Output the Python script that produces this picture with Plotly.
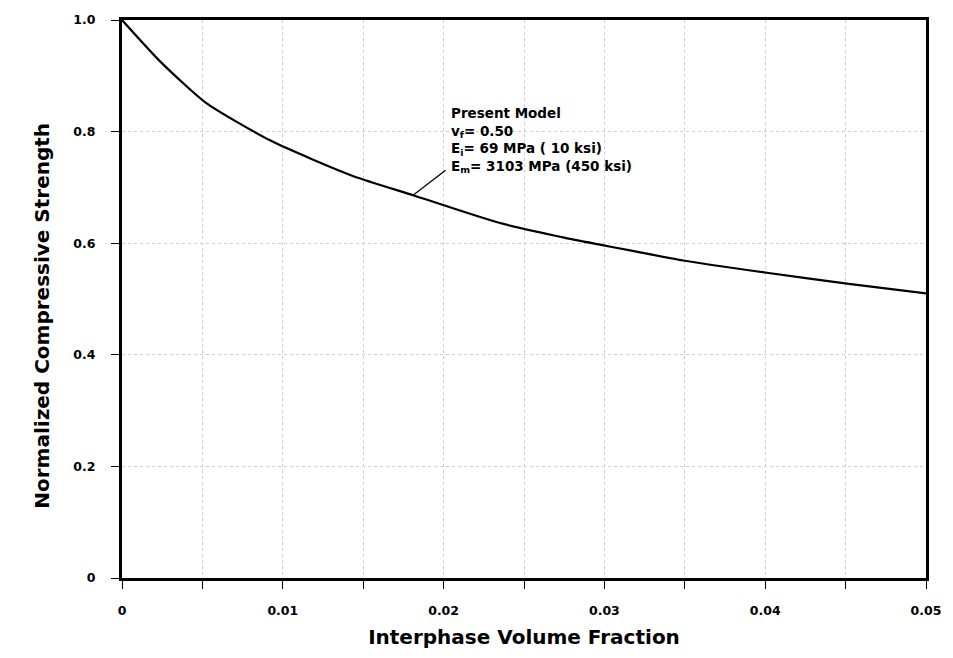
import plotly.graph_objects as go

# Normalized compressive strength vs. interphase volume fraction (Present Model)
interphase_vf = [0.0, 0.0024, 0.0052, 0.0093, 0.0144, 0.0181, 0.0234,
                 0.0275, 0.0298, 0.0316, 0.0349, 0.0401, 0.0452, 0.05]
norm_strength = [1.0, 0.925, 0.852, 0.783, 0.720, 0.686, 0.637,
                 0.610, 0.597, 0.587, 0.569, 0.547, 0.527, 0.510]

x_ticks = [0, 0.01, 0.02, 0.03, 0.04, 0.05]
x_tick_text = ["0", "0.01", "0.02", "0.03", "0.04", "0.05"]
y_ticks = [0, 0.2, 0.4, 0.6, 0.8, 1.0]
y_tick_text = ["0", "0.2", "0.4", "0.6", "0.8", "1.0"]

x_title = "Interphase Volume Fraction"
y_title = "Normalized Compressive Strength"

label_lines = ["Present Model",
               "v<sub>f</sub>= 0.50",
               "E<sub>i</sub>= 69 MPa ( 10 ksi)",
               "E<sub>m</sub>= 3103 MPa (450 ksi)"]
pointer_index = 5  # curve point the label's leader line touches

font_family = "DejaVu Sans, Verdana, sans-serif"
grid_color = "#cfcfcf"
title_font = dict(family=font_family, size=20, color="black", weight="bold")

fig = go.Figure()
fig.add_trace(go.Scatter(
    x=interphase_vf, y=norm_strength, mode="lines",
    line=dict(color="black", width=2.2, shape="spline", smoothing=0.6),
    hoverinfo="skip", showlegend=False,
))

# leader line from label to curve
fig.add_annotation(
    x=interphase_vf[pointer_index], y=norm_strength[pointer_index],
    ax=34, ay=-26, text="", showarrow=True, arrowhead=0,
    arrowwidth=1.3, arrowcolor="black",
)
# label block
fig.add_annotation(
    x=interphase_vf[pointer_index], y=norm_strength[pointer_index],
    xshift=36, yshift=18, xanchor="left", yanchor="bottom",
    text="<br>".join(label_lines), showarrow=False, align="left",
    font=dict(family=font_family, size=13.5, color="black", weight="bold"),
)

# vertical axis title, set slightly below the plot's mid-height
fig.add_annotation(
    xref="paper", yref="paper", x=0, y=0.47, xshift=-80,
    xanchor="center", yanchor="middle", textangle=-90,
    text=y_title, showarrow=False, font=title_font,
)

axis_common = dict(
    showline=True, linewidth=3, linecolor="black", mirror=True,
    ticks="outside", ticklen=8, tickwidth=1.2, tickcolor="black",
    showgrid=True, gridcolor=grid_color, griddash="dot", gridwidth=1,
    zeroline=False,
    tickfont=dict(family=font_family, size=12.5, color="black", weight="bold"),
)

fig.update_xaxes(
    range=[0, 0.05], tickvals=x_ticks, ticktext=x_tick_text,
    minor=dict(dtick=0.005, ticks="outside", ticklen=8, tickcolor="black",
               showgrid=True, gridcolor=grid_color, griddash="dot"),
    title_text=x_title, title_font=title_font, title_standoff=13,
    ticklabelstandoff=11,
    **axis_common,
)
fig.update_yaxes(
    range=[0, 1.0], tickvals=y_ticks, ticktext=y_tick_text,
    ticklabelstandoff=13,
    **axis_common,
)

fig.update_layout(
    width=953, height=658,
    margin=dict(l=122, r=25, t=18, b=80),
    paper_bgcolor="white", plot_bgcolor="white",
    showlegend=False,
)

fig.write_html("out.html")
